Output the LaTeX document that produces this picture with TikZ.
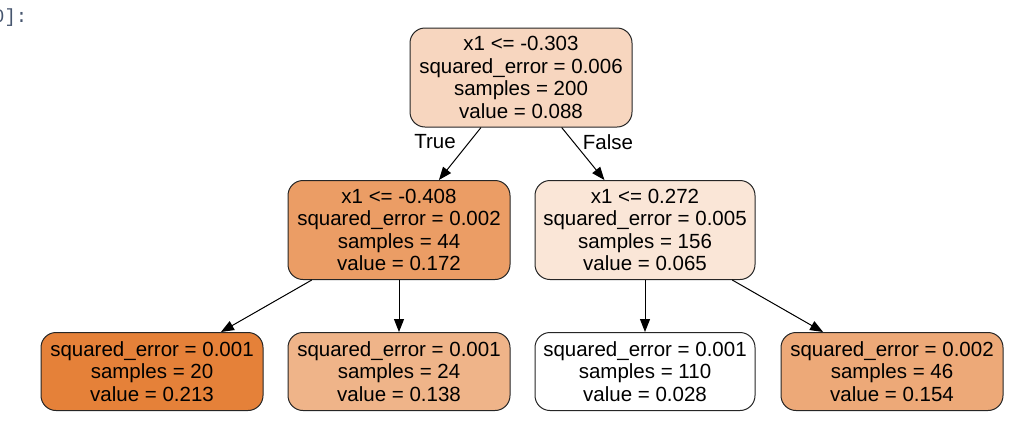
\documentclass[tikz,border=0pt]{standalone}
\usepackage{fontspec}
\setmainfont{Liberation Sans}
\newfontfamily\promptfont{Liberation Mono}
\usetikzlibrary{arrows.meta}
\definecolor{cRoot}{HTML}{F7D6BF}
\definecolor{cLeft}{HTML}{EB9D65}
\definecolor{cRight}{HTML}{FAE6D7}
\definecolor{cLa}{HTML}{E58139}
\definecolor{cLb}{HTML}{EFB489}
\definecolor{cLc}{HTML}{FFFFFF}
\definecolor{cLd}{HTML}{EDA978}
\definecolor{promptcol}{RGB}{70,85,110}
\begin{document}
\begin{tikzpicture}[x=1pt,y=-1pt,
  tn/.style={draw=black!85, line width=1pt, rounded corners=15pt, align=center,
    font=\fontsize{20.5}{22.6}\selectfont, inner sep=0pt, minimum width=222pt},
  inner/.style={tn, minimum height=99pt},
  leafbox/.style={tn, minimum height=78pt},
  edge/.style={-{Triangle[length=13pt,width=10pt]}, line width=1pt},
  elabel/.style={font=\fontsize{20.5}{22.6}\selectfont, inner sep=0pt}]
\useasboundingbox (0,0) rectangle (1035,426);
\node[anchor=west, text=promptcol, font=\promptfont\fontsize{19}{22}\selectfont, inner sep=0pt] (prompt) at (-7,18) {0]:};
\node[inner, fill=cRoot] (root) at (521,77.5) {x1 <= -0.303\\squared\_error = 0.006\\samples = 200\\value = 0.088};
\node[inner, fill=cLeft] (left) at (399,230) {x1 <= -0.408\\squared\_error = 0.002\\samples = 44\\value = 0.172};
\node[inner, fill=cRight, minimum width=220pt] (right) at (645,230) {x1 <= 0.272\\squared\_error = 0.005\\samples = 156\\value = 0.065};
\node[leafbox, fill=cLa] (l1) at (152,371.5) {squared\_error = 0.001\\samples = 20\\value = 0.213};
\node[leafbox, fill=cLb] (l2) at (399,371.5) {squared\_error = 0.001\\samples = 24\\value = 0.138};
\node[leafbox, fill=cLc, minimum width=220pt] (l3) at (645,371.5) {squared\_error = 0.001\\samples = 110\\value = 0.028};
\node[leafbox, fill=cLd] (l4) at (892,371.5) {squared\_error = 0.002\\samples = 46\\value = 0.154};
\draw[edge] (root) -- (left);
\draw[edge] (root) -- (right);
\draw[edge] (left) -- (l1);
\draw[edge] (left) -- (l2);
\draw[edge] (right) -- (l3);
\draw[edge] (right) -- (l4);
\node[elabel] (tlabel) at (435,142) {True};
\node[elabel] (flabel) at (608,142) {False};
\end{tikzpicture}
\end{document}
